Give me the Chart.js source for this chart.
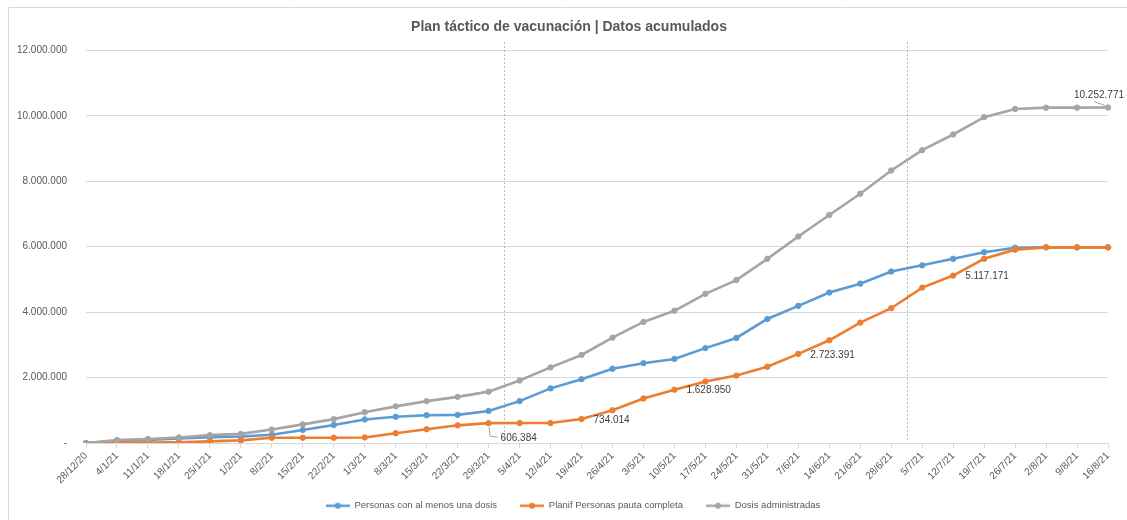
<!DOCTYPE html>
<html>
<head>
<meta charset="utf-8">
<script src="https://cdn.jsdelivr.net/npm/chart.js@4"></script>
<style>
  html, body { margin: 0; padding: 0; background: #fff; }
  #wrap { width: 1127px; height: 520px; position: relative; }
</style>
</head>
<body>
<div id="wrap"><canvas id="chart"></canvas></div>
<script>
// ---------- data (weekly cumulative) ----------
const weeks = [
  "28/12/20", "4/1/21", "11/1/21", "18/1/21", "25/1/21", "1/2/21", "8/2/21", "15/2/21",
  "22/2/21", "1/3/21", "8/3/21", "15/3/21", "22/3/21", "29/3/21", "5/4/21", "12/4/21",
  "19/4/21", "26/4/21", "3/5/21", "10/5/21", "17/5/21", "24/5/21", "31/5/21", "7/6/21",
  "14/6/21", "21/6/21", "28/6/21", "5/7/21", "12/7/21", "19/7/21", "26/7/21", "2/8/21",
  "9/8/21", "16/8/21"
];
const unaDosis = [
  0, 60000, 90000, 140000, 180000, 200000, 250000, 400000,
  550000, 720000, 800000, 850000, 860000, 980000, 1280000, 1670000,
  1950000, 2270000, 2440000, 2570000, 2900000, 3210000, 3790000, 4190000,
  4600000, 4870000, 5240000, 5430000, 5630000, 5830000, 5970000, 5980000,
  5980000, 5980000
];
const pautaCompleta = [
  0, 10000, 10000, 20000, 50000, 80000, 160000, 160000,
  160000, 170000, 300000, 420000, 540000, 606384, 610000, 610000,
  734014, 1000000, 1360000, 1628950, 1880000, 2060000, 2330000, 2723391,
  3140000, 3680000, 4120000, 4750000, 5117171, 5630000, 5910000, 5980000,
  5980000, 5980000
];
const dosisAdmin = [
  0, 90000, 120000, 170000, 240000, 280000, 410000, 570000,
  730000, 940000, 1120000, 1280000, 1410000, 1570000, 1910000, 2310000,
  2690000, 3220000, 3700000, 4040000, 4560000, 4980000, 5630000, 6310000,
  6970000, 7620000, 8330000, 8950000, 9430000, 9960000, 10210000, 10250000,
  10250000, 10252771
];
const yMax = 12000000;
const yStep = 2000000;
// dotted phase separators sit between two weeks (category index)
const phaseMarks = [13.5, 26.5];
// which points carry a value label
const pautaLabelIdx = [13, 16, 19, 23, 28];
const dosisLabelIdx = [33];

const BLUE = "#5b9bd5", ORANGE = "#ed7d31", GREY = "#a5a5a5";
const TXT = "#595959", GRID = "#d9d9d9";
const FONT = "'Liberation Sans', Arial, sans-serif";

const fmt = (v) => String(Math.round(v)).replace(/\B(?=(\d{3})+(?!\d))/g, ".");

function legendIcon(color) {
  const c = document.createElement("canvas");
  c.width = 24; c.height = 8;
  const g = c.getContext("2d");
  g.strokeStyle = color; g.lineWidth = 2.5;
  g.beginPath(); g.moveTo(0, 4); g.lineTo(24, 4); g.stroke();
  g.fillStyle = color;
  g.beginPath(); g.arc(12, 4, 3, 0, Math.PI * 2); g.fill();
  return c;
}
const icons = [legendIcon(BLUE), legendIcon(ORANGE), legendIcon(GREY)];

// frame + small nudges of title/legend (the original centres them a bit right of the canvas middle)
const framePlugin = {
  id: "frame",
  beforeLayout(chart) {
    // legend padding is used as the gap between items, so pin its strip height
    const lg = chart.legend;
    if (lg && !lg._pinned) {
      const fit = lg.fit;
      lg.fit = function () { fit.call(this); this.height = 27; };
      lg._pinned = true;
    }
  },
  afterLayout(chart) {
    const lg = chart.legend, tb = chart.titleBlock;
    if (lg) { lg.left += 19; lg.right += 19; lg.top -= 15; }
    if (tb) { tb.left += 15; tb.right += 15; }
  },
  beforeDraw(chart) {
    const ctx = chart.ctx;
    ctx.save();
    ctx.fillStyle = "#fff";
    ctx.fillRect(0, 0, chart.width, chart.height);
    ctx.strokeStyle = GRID; ctx.lineWidth = 1;
    ctx.beginPath();
    ctx.moveTo(8.5, chart.height); ctx.lineTo(8.5, 7.5); ctx.lineTo(chart.width, 7.5);
    ctx.stroke();
    ctx.restore();
  }
};

// dotted vertical separators
const phasePlugin = {
  id: "phases",
  beforeDatasetsDraw(chart) {
    const { ctx, scales: { x, y } } = chart;
    ctx.save();
    ctx.strokeStyle = "#a6a6a6"; ctx.lineWidth = 1;
    ctx.setLineDash([1.5, 2.5]);
    phaseMarks.forEach((m) => {
      const px = Math.round(x.getPixelForValue(m)) + 0.5;
      ctx.beginPath(); ctx.moveTo(px, y.top - 8); ctx.lineTo(px, y.bottom - 2); ctx.stroke();
    });
    ctx.restore();
  }
};

// value labels on selected points
const valueLabelPlugin = {
  id: "valueLabels",
  afterDatasetsDraw(chart) {
    const ctx = chart.ctx;
    ctx.save();
    ctx.font = "10px " + FONT;
    ctx.fillStyle = "#404040";
    ctx.textBaseline = "middle";
    ctx.strokeStyle = "#a6a6a6"; ctx.lineWidth = 1;

    const pMeta = chart.getDatasetMeta(1);
    pautaLabelIdx.forEach((i, k) => {
      const pt = pMeta.data[i];
      const txt = fmt(pautaCompleta[i]);
      ctx.textAlign = "left";
      if (k === 0) {
        // first label sits below with a small leader
        ctx.beginPath();
        ctx.moveTo(pt.x + 0.5, pt.y + 4); ctx.lineTo(pt.x + 1.5, pt.y + 13); ctx.lineTo(pt.x + 9, pt.y + 14);
        ctx.stroke();
        ctx.fillText(txt, pt.x + 12, pt.y + 15);
      } else {
        ctx.fillText(txt, pt.x + 12, pt.y + 1);
      }
    });

    const dMeta = chart.getDatasetMeta(2);
    dosisLabelIdx.forEach((i) => {
      const pt = dMeta.data[i];
      ctx.beginPath();
      ctx.moveTo(pt.x - 3, pt.y - 2); ctx.lineTo(pt.x - 14, pt.y - 6);
      ctx.stroke();
      ctx.textAlign = "right";
      ctx.fillText(fmt(dosisAdmin[i]), pt.x + 16, pt.y - 12);
    });
    ctx.restore();
  }
};

const lineDs = (label, data, color, order) => ({
  label, data, order,
  borderColor: color, backgroundColor: color,
  borderWidth: 2.6, tension: 0,
  pointRadius: 2.7, pointBorderWidth: 1, pointBorderColor: color, pointBackgroundColor: color,
});

new Chart(document.getElementById("chart"), {
  type: "line",
  data: {
    labels: weeks,
    datasets: [
      lineDs("Personas con al menos una dosis", unaDosis, BLUE, 3),
      lineDs("Planif Personas pauta completa", pautaCompleta, ORANGE, 2),
      lineDs("Dosis administradas", dosisAdmin, GREY, 1),
    ],
  },
  options: {
    responsive: true, maintainAspectRatio: false, animation: false,
    layout: { padding: { left: 0, right: 19, top: 0, bottom: 0 } },
    plugins: {
      title: {
        display: true,
        text: "Plan táctico de vacunación | Datos acumulados",
        color: TXT,
        font: { family: FONT, size: 14, weight: "bold" },
        padding: { top: 18.6, bottom: 15 },
      },
      legend: {
        position: "bottom",
        labels: {
          color: TXT,
          font: { family: FONT, size: 9.5 },
          usePointStyle: true, pointStyleWidth: 24, boxHeight: 8,
          padding: 23,
          sort: (a, b) => a.datasetIndex - b.datasetIndex,
          generateLabels: (chart) =>
            Chart.defaults.plugins.legend.labels.generateLabels(chart).map((l) => ({ ...l, pointStyle: icons[l.datasetIndex] })),
        },
      },
      tooltip: { enabled: false },
    },
    scales: {
      x: {
        offset: false,
        grid: { drawOnChartArea: false, drawTicks: true, tickLength: 5, color: GRID },
        border: { color: GRID },
        ticks: { color: TXT, font: { family: FONT, size: 10 }, autoSkip: false, maxRotation: 45, minRotation: 45, padding: 2 },
        afterFit: (s) => { s.height = 50; },
      },
      y: {
        min: 0, max: yMax,
        grid: { color: GRID, drawTicks: false },
        border: { display: false },
        ticks: {
          stepSize: yStep, padding: 19, color: TXT, font: { family: FONT, size: 10 },
          callback: (v) => (v === 0 ? "-" : fmt(v)),
        },
        afterFit: (s) => { s.width = 86; },
      },
    },
  },
  plugins: [framePlugin, phasePlugin, valueLabelPlugin],
});
</script>
</body>
</html>
